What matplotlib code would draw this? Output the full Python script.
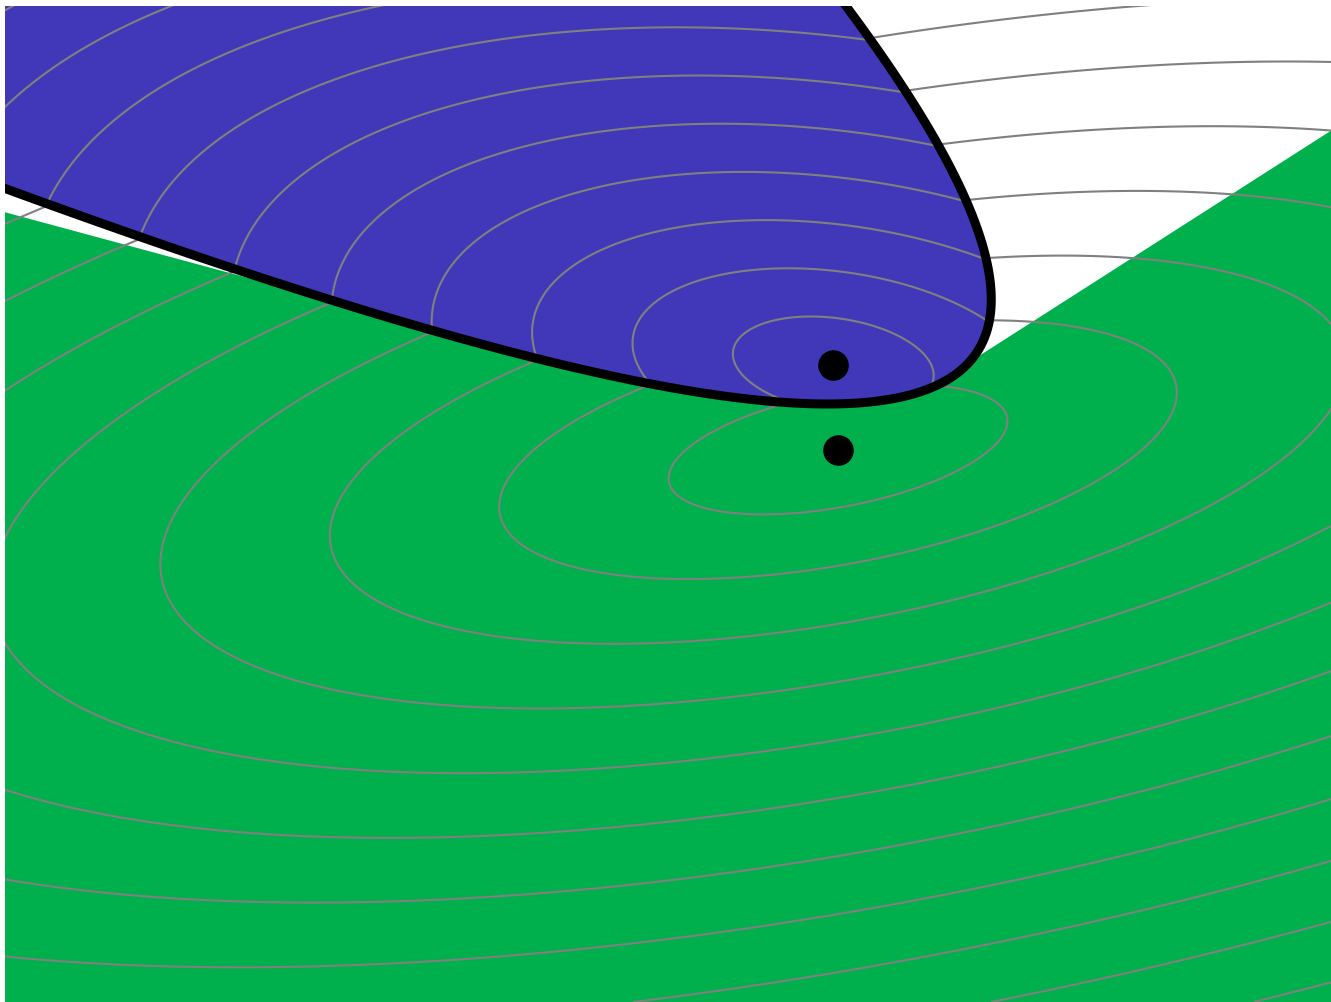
import numpy as np
import matplotlib.pyplot as plt

# everything is in picture units: x to the right, y downwards
W, H = 1331, 1003

# green region (polygon)
green_x = [0, 450, 950, 1331, 1331, 0]
green_y = [211.9, 333.5, 375.5, 131.7, 1003, 1003]

# points read along the black outline of the blue region
blue_bx = [5, 143, 325, 400, 533, 643, 767, 833, 933, 960, 977, 988, 989, 986, 967, 936, 902, 847]
blue_by = [190, 238, 297, 324, 360, 385, 399, 402, 388, 376, 360, 317, 300, 253, 200, 143, 90, 7]

# level sets: centre + shape matrix of the level-1 ellipse
outer_center = [838.0, 450.7]
outer_shape = [[28696.0, -4840.0], [-4840.0, 4186.0]]
outer_levels = np.arange(1, 26)

inner_center = [833.3, 365.7]
inner_shape = [[10080.0, 1080.0], [1080.0, 2323.0]]
inner_levels = np.arange(1, 16)

dots_x = [833.3, 838.0]
dots_y = [365.7, 450.7]

blue = "#4038b8"
green = "#00b04c"
grey = "#808080"

xs = np.linspace(0, W, 1332)
ys = np.linspace(0, H, 1004)
X, Y = np.meshgrid(xs, ys)


def level(center, shape):
    Si = np.linalg.inv(np.array(shape))
    dx = X - center[0]
    dy = Y - center[1]
    return np.sqrt(Si[0, 0] * dx**2 + 2 * Si[0, 1] * dx * dy + Si[1, 1] * dy**2)


# fit a conic through the outline points
u = np.array(blue_bx) / 1000.0
v = np.array(blue_by) / 1000.0
M = np.column_stack([u**2, u * v, v**2, u, v, np.ones_like(u)])
coef = np.linalg.svd(M)[2][-1]


def conic(x, y):
    x = x / 1000.0
    y = y / 1000.0
    return coef[0] * x**2 + coef[1] * x * y + coef[2] * y**2 + coef[3] * x + coef[4] * y + coef[5]


G = conic(X, Y)
if conic(inner_center[0], inner_center[1]) > 0:
    G = -G

F_out = level(outer_center, outer_shape)
F_in = np.ma.masked_where(G > 0, level(inner_center, inner_shape))

fig = plt.figure(figsize=(W / 100, H / 100), dpi=100)
ax = fig.add_axes([5 / W, 0, 1 - 5 / W, 1 - 7 / H])
ax.set_xlim(5, W)
ax.set_ylim(H, 7)
ax.axis("off")

ax.fill(green_x, green_y, color=green, lw=0, zorder=1)
ax.contour(X, Y, F_out, levels=outer_levels, colors=grey, linewidths=1.5, zorder=2)
ax.contourf(X, Y, G, levels=[G.min() - 1, 0], colors=[blue], zorder=3)
ax.contour(X, Y, F_in, levels=inner_levels, colors=grey, linewidths=1.5, zorder=4)
ax.contour(X, Y, G, levels=[0], colors="black", linewidths=6.5, zorder=5)
ax.plot(dots_x, dots_y, "o", color="black", markersize=21, zorder=6)

fig.savefig("out.png", dpi=100, facecolor="white")
